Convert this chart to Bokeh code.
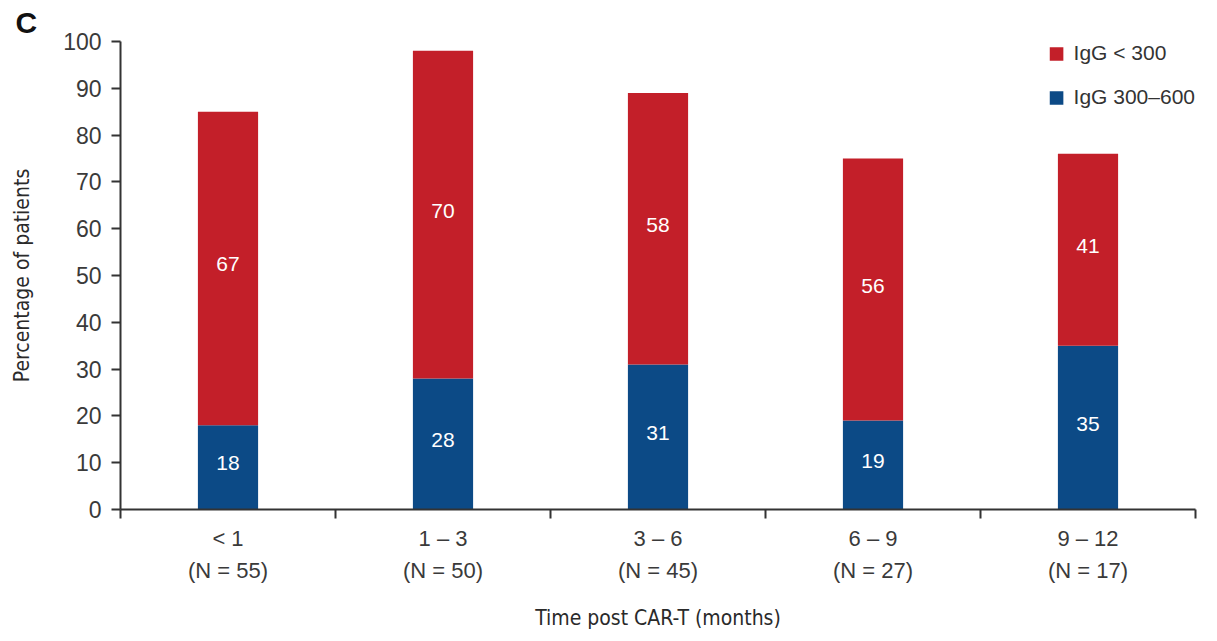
from bokeh.plotting import figure
from bokeh.models import (ColumnDataSource, FixedTicker, Legend, LegendItem, Title, Range1d)
from bokeh.core.properties import value
from bokeh.embed import file_html
from bokeh.resources import INLINE

categories = ["< 1\n(N = 55)", "1 \u2013 3\n(N = 50)", "3 \u2013 6\n(N = 45)", "6 \u2013 9\n(N = 27)", "9 \u2013 12\n(N = 17)"]
igg_300_600 = [18, 28, 31, 19, 35]
igg_lt_300 = [67, 70, 58, 56, 41]
y_ticks = [0, 10, 20, 30, 40, 50, 60, 70, 80, 90, 100]
series_names = ["IgG < 300", "IgG 300\u2013600"]

RED = "#C31F29"
BLUE = "#0C4A86"
FONT = "Liberation Sans"
NARROW = "DejaVu Sans Condensed"

xs = list(range(len(categories)))
src = ColumnDataSource(dict(
    x=xs,
    blue=igg_300_600,
    red=igg_lt_300,
    blue_mid=[b / 2 for b in igg_300_600],
    red_mid=[b + r / 2 for b, r in zip(igg_300_600, igg_lt_300)],
    blue_txt=[str(v) for v in igg_300_600],
    red_txt=[str(v) for v in igg_lt_300],
))

p = figure(width=1201, height=633, output_backend="svg", toolbar_location=None,
           x_range=Range1d(-0.5, len(categories) - 0.5), y_range=Range1d(0, 100),
           min_border_left=120, min_border_top=41, min_border_bottom=123, min_border_right=6)
p.outline_line_color = None
p.grid.visible = False
p.background_fill_color = "white"
p.border_fill_color = "white"

r_blue, r_red = p.vbar_stack(["blue", "red"], x="x", width=0.28, source=src,
                             color=[BLUE, RED], line_color=None)

for ycol, tcol in (("blue_mid", "blue_txt"), ("red_mid", "red_txt")):
    p.text(x="x", y=ycol, text=tcol, source=src, text_color="white",
           text_align="center", text_baseline="middle", text_font=value(FONT),
           text_font_size="21px", y_offset=-4)

# Y axis
ya = p.yaxis[0]
ya.ticker = FixedTicker(ticks=y_ticks)
ya.minor_tick_line_color = None
ya.major_tick_out = 9
ya.major_tick_in = 0
ya.axis_line_color = "#333333"
ya.axis_line_width = 2
ya.major_tick_line_color = "#333333"
ya.major_tick_line_width = 2
ya.major_label_text_font = FONT
ya.major_label_text_font_size = "23px"
ya.major_label_text_color = "#3a3a3a"
ya.major_label_standoff = 10
ya.axis_label = "Percentage of patients"
ya.axis_label_text_font = NARROW
ya.axis_label_text_font_style = "normal"
ya.axis_label_text_font_size = "21px"
ya.axis_label_text_color = "#2a2a2a"
ya.axis_label_standoff = 26

# X axis
xa = p.xaxis[0]
xa.ticker = FixedTicker(ticks=xs, minor_ticks=[i - 0.5 for i in range(len(categories) + 1)])
xa.major_label_overrides = {i: c for i, c in enumerate(categories)}
xa.major_tick_line_color = None
xa.major_tick_out = 0
xa.major_tick_in = 0
xa.minor_tick_line_color = "#333333"
xa.minor_tick_line_width = 2
xa.minor_tick_out = 9
xa.minor_tick_in = 0
xa.axis_line_color = "#333333"
xa.axis_line_width = 2
xa.major_label_text_font = FONT
xa.major_label_text_font_size = "22px"
xa.major_label_text_color = "#3a3a3a"
xa.major_label_text_line_height = 1.3
xa.major_label_standoff = 7
xa.axis_label = "Time post CAR-T (months)"
xa.axis_label_text_font = NARROW
xa.axis_label_text_font_style = "normal"
xa.axis_label_text_font_size = "21px"
xa.axis_label_text_color = "#2a2a2a"
xa.axis_label_standoff = 20

legend = Legend(items=[LegendItem(label=series_names[0], renderers=[r_red]),
                       LegendItem(label=series_names[1], renderers=[r_blue])],
                location="top_right")
legend.border_line_color = None
legend.background_fill_alpha = 0
legend.label_text_font = FONT
legend.label_text_font_size = "21px"
legend.label_text_color = "#333333"
legend.glyph_width = 17
legend.glyph_height = 17
legend.spacing = 20
legend.margin = 0
legend.padding = 0
legend.label_standoff = 9
p.add_layout(legend)

panel_title = Title(text="C", align="left", offset=-105, standoff=6,
                    text_font=FONT, text_font_style="bold", text_font_size="30px",
                    text_color="#111111")
p.add_layout(panel_title, "above")

open("out.html", "w").write(file_html(p, INLINE))
